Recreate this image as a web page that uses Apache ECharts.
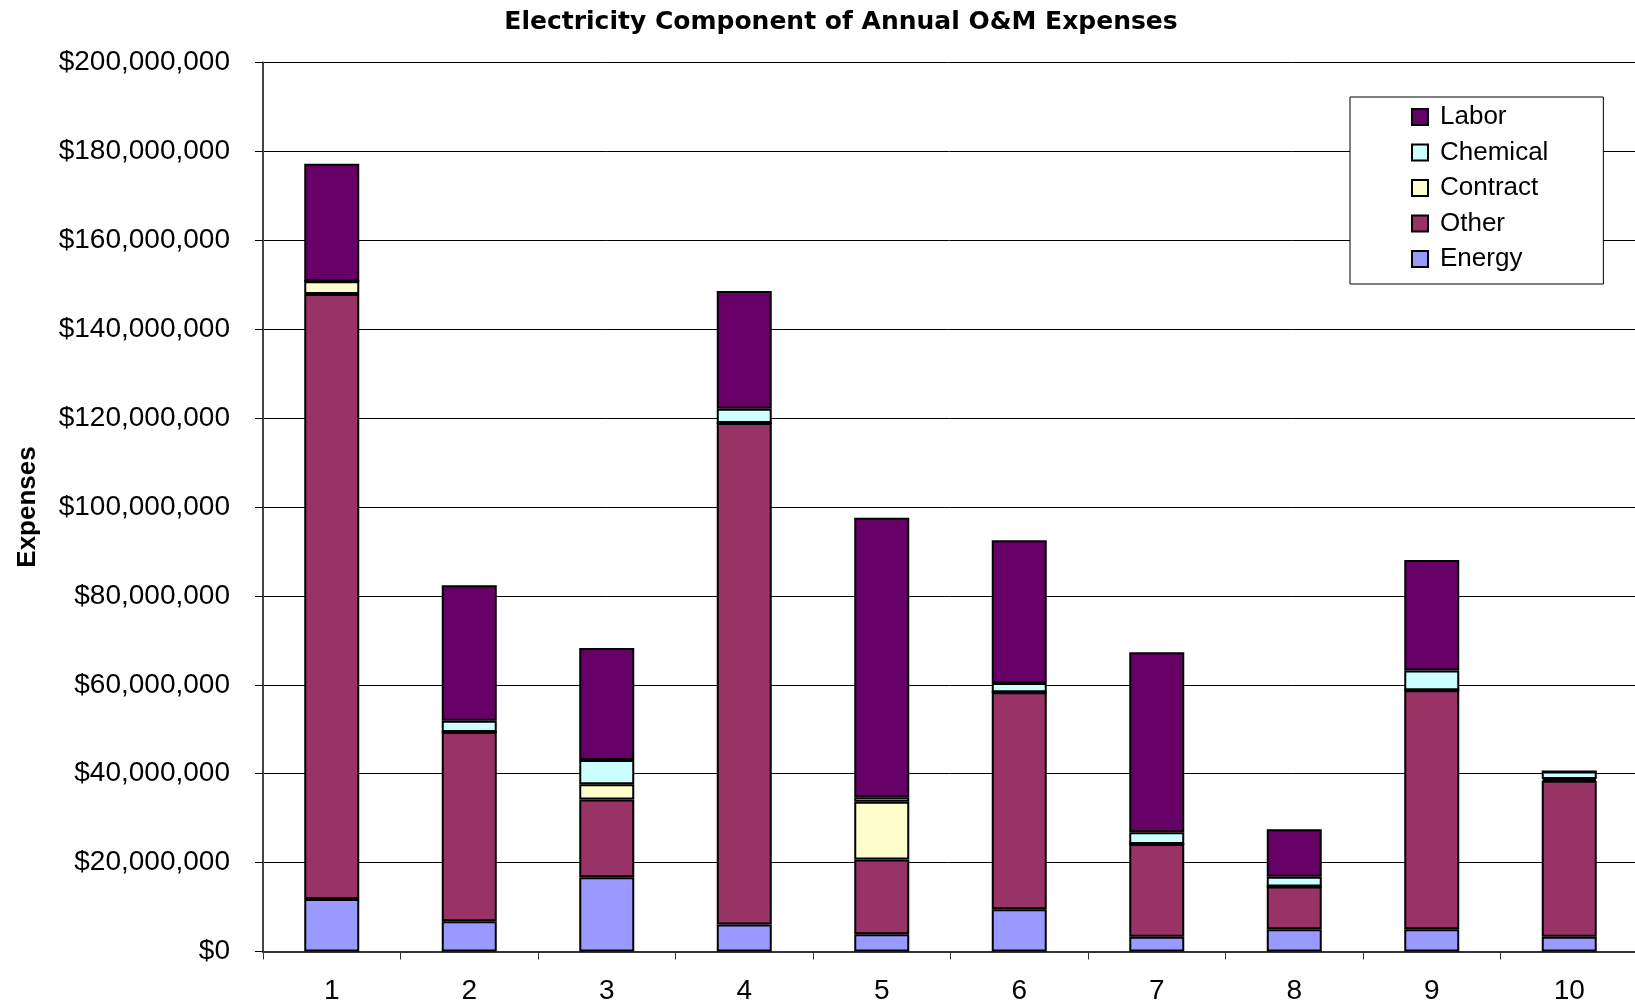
<!DOCTYPE html>
<html>
<head>
<meta charset="utf-8">
<script src="https://cdn.jsdelivr.net/npm/echarts@6/dist/echarts.min.js"></script>
<style>
	html, body { margin: 0; padding: 0; background: #fff; }
	#chart { width: 1635px; height: 1003px; }
</style>
</head>
<body>
<div id="chart"></div>
<script>
// values in millions of dollars
var categories = ['1', '2', '3', '4', '5', '6', '7', '8', '9', '10'];
var energy   = [11.8, 6.8, 16.7, 6.1, 3.9, 9.5, 3.3, 5.0, 5.0, 3.3];
var other    = [136.1, 42.6, 17.5, 112.8, 16.8, 48.8, 20.9, 9.6, 53.8, 35.1];
var contract = [2.9, 0, 3.4, 0, 13.0, 0, 0, 0, 0, 0.4];
var chemical = [0, 2.5, 5.5, 3.2, 1.0, 2.1, 2.6, 2.2, 4.4, 1.7];
var labor    = [26.4, 30.5, 25.2, 26.5, 62.9, 32.1, 40.5, 10.7, 24.9, 0];
var legendNames = ['Labor', 'Chemical', 'Contract', 'Other', 'Energy'];

var font = '"Liberation Sans", Arial, sans-serif';

function money(v) {
	return '$' + Math.round(v * 1000000).toLocaleString('en-US');
}

function barSeries(name, data, color) {
	return {
		name: name,
		type: 'bar',
		stack: 'total',
		barWidth: 55,
		data: data,
		itemStyle: {
			color: color,
			borderColor: '#000',
			borderWidth: 2
		}
	};
}

var myChart = echarts.init(document.getElementById('chart'));
var option = {
	animation: false,
	backgroundColor: '#fff',
	textStyle: { fontFamily: font },
	title: {
		text: 'Electricity Component of Annual O&M Expenses',
		left: 841,
		top: 10,
		textAlign: 'center',
		padding: 0,
		textStyle: {
			fontFamily: '"DejaVu Sans", sans-serif',
			fontSize: 25,
			fontWeight: 'bold',
			color: '#000'
		}
	},
	legend: {
		data: legendNames,
		orient: 'vertical',
		left: 1350,
		top: 97,
		padding: [7, 55, 12, 61],
		icon: 'rect',
		itemWidth: 16,
		itemHeight: 16,
		itemGap: 9.5,
		backgroundColor: '#fff',
		borderColor: '#000',
		borderWidth: 1,
		textStyle: {
			fontFamily: font,
			fontSize: 26,
			lineHeight: 26,
			color: '#000',
			padding: [0, 0, 0, 7]
		}
	},
	grid: {
		left: 263,
		right: -3,
		top: 62.5,
		bottom: 51.5,
		containLabel: false,
		outerBoundsMode: 'none'
	},
	xAxis: {
		type: 'category',
		data: categories,
		boundaryGap: true,
		axisLine: {
			lineStyle: { color: '#333', width: 2 }
		},
		axisTick: {
			show: true,
			interval: 0,
			length: 8,
			lineStyle: { color: '#333', width: 1 }
		},
		axisLabel: {
			interval: 0,
			margin: 26,
			fontFamily: font,
			fontSize: 28,
			color: '#000'
		}
	},
	yAxis: {
		type: 'value',
		min: 0,
		max: 200,
		interval: 20,
		name: 'Expenses',
		nameLocation: 'middle',
		nameGap: 222,
		nameTextStyle: {
			fontFamily: font,
			fontSize: 26,
			fontWeight: 'bold',
			color: '#000'
		},
		axisLine: {
			show: true,
			lineStyle: { color: '#444', width: 2 }
		},
		axisTick: {
			show: true,
			length: 8,
			lineStyle: { color: '#000', width: 1 }
		},
		axisLabel: {
			margin: 33,
			fontFamily: font,
			fontSize: 28,
			color: '#000',
			formatter: money
		},
		splitLine: {
			lineStyle: { color: '#000', width: 1 }
		}
	},
	series: [
		barSeries('Energy', energy, '#9999FF'),
		barSeries('Other', other, '#993366'),
		barSeries('Contract', contract, '#FFFFCC'),
		barSeries('Chemical', chemical, '#CCFFFF'),
		barSeries('Labor', labor, '#660066')
	]
};
myChart.setOption(option);
</script>
</body>
</html>
